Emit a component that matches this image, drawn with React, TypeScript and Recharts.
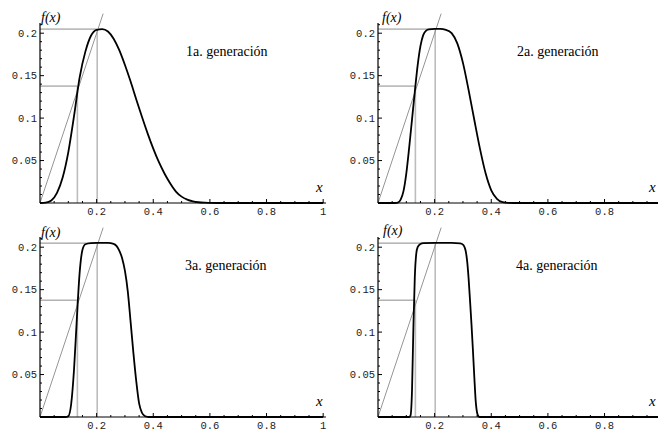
import { Line, LineChart, ReferenceLine, XAxis, YAxis } from 'recharts'

const GEN1_X = [0, 0.02, 0.04, 0.06, 0.08, 0.1, 0.12, 0.14, 0.16, 0.18, 0.2, 0.22, 0.24, 0.26, 0.28, 0.3, 0.32, 0.34, 0.36, 0.38, 0.4, 0.42, 0.44, 0.46, 0.48, 0.5, 0.52, 0.54, 0.56, 0.58, 0.6, 0.65, 0.7, 0.8, 0.9, 1]
const GEN1_Y = [0, 0.0004, 0.003, 0.012, 0.03, 0.06, 0.102, 0.148, 0.178, 0.197, 0.204, 0.2048, 0.202, 0.1935, 0.18, 0.1625, 0.143, 0.122, 0.1015, 0.082, 0.064, 0.048, 0.0345, 0.023, 0.0135, 0.0075, 0.004, 0.002, 0.0009, 0.0004, 0.0002, 0, 0, 0, 0, 0]

const GEN2_X = [0, 0.06, 0.07, 0.08, 0.09, 0.1, 0.11, 0.12, 0.13, 0.14, 0.15, 0.16, 0.17, 0.18, 0.2, 0.22, 0.24, 0.26, 0.28, 0.3, 0.32, 0.34, 0.36, 0.38, 0.4, 0.42, 0.44, 0.46, 0.48, 0.6, 0.8, 1]
const GEN2_Y = [0, 0, 0.0005, 0.004, 0.014, 0.035, 0.065, 0.098, 0.131, 0.162, 0.185, 0.198, 0.203, 0.2045, 0.205, 0.205, 0.204, 0.2, 0.188, 0.165, 0.133, 0.098, 0.064, 0.035, 0.015, 0.005, 0.001, 0.0001, 0, 0, 0, 0]

const GEN3_X = [0, 0.09, 0.1, 0.11, 0.12, 0.13, 0.14, 0.15, 0.16, 0.18, 0.2, 0.22, 0.24, 0.26, 0.27, 0.28, 0.29, 0.3, 0.31, 0.32, 0.33, 0.34, 0.35, 0.36, 0.37, 0.38, 0.39, 0.5, 0.75, 1]
const GEN3_Y = [0, 0, 0.001, 0.015, 0.055, 0.115, 0.17, 0.197, 0.2035, 0.2048, 0.205, 0.205, 0.205, 0.204, 0.2015, 0.196, 0.187, 0.172, 0.148, 0.112, 0.075, 0.042, 0.016, 0.005, 0.0012, 0.0002, 0, 0, 0, 0]

const GEN4_X = [0, 0.11, 0.115, 0.12, 0.125, 0.13, 0.135, 0.14, 0.15, 0.16, 0.2, 0.26, 0.29, 0.3, 0.305, 0.31, 0.315, 0.32, 0.325, 0.33, 0.335, 0.34, 0.345, 0.35, 0.355, 0.36, 0.5, 0.75, 1]
const GEN4_Y = [0, 0, 0.002, 0.03, 0.105, 0.165, 0.192, 0.2, 0.2038, 0.2048, 0.205, 0.205, 0.2045, 0.203, 0.2005, 0.195, 0.183, 0.163, 0.137, 0.11, 0.08, 0.048, 0.019, 0.005, 0.0008, 0, 0, 0, 0]

const X_TICKS = [0.05, 0.1, 0.15, 0.2, 0.25, 0.3, 0.35, 0.4, 0.45, 0.5, 0.55, 0.6, 0.65, 0.7, 0.75, 0.8, 0.85, 0.9, 0.95, 1]
const X_LABELS = [0.2, 0.4, 0.6, 0.8, 1]
const X_LABELS_CUT = [0.2, 0.4, 0.6, 0.8]
const Y_TICKS = [0.01, 0.02, 0.03, 0.04, 0.05, 0.06, 0.07, 0.08, 0.09, 0.1, 0.11, 0.12, 0.13, 0.14, 0.15, 0.16, 0.17, 0.18, 0.19, 0.2, 0.21]
const Y_LABELS = [0.05, 0.1, 0.15, 0.2]

// guide lines: peak level, knee level, and the diagonal
const PEAK_X = 0.202
const PEAK_Y = 0.2048
const KNEE_X = 0.132
const KNEE_Y = 0.1376
const DIAG_END = 0.223

const TITLES = ['1a. generación', '2a. generación', '3a. generación', '4a. generación']

const zip = (xs: number[], ys: number[]) => xs.map((x, i) => ({ x, y: ys[i] }))

const MONO = '"Liberation Mono", "DejaVu Sans Mono", monospace'
const SERIF = '"Liberation Serif", "DejaVu Serif", serif'

function XTick(props: any) {
  const { x, y, payload, labels } = props
  const v = payload.value
  const major = X_LABELS.includes(v)
  return (
    <g>
      <line x1={x} x2={x} y1={y} y2={y - (major ? 4 : 2)} stroke="#000" strokeWidth={1} />
      {labels.includes(v) && (
        <text x={x} y={y + 11.5} textAnchor="middle" fontFamily={MONO} fontSize={10.5} fill="#222">
          {String(v)}
        </text>
      )}
    </g>
  )
}

function YTick(props: any) {
  const { x, y, payload } = props
  const v = payload.value
  const major = Y_LABELS.includes(v)
  return (
    <g>
      <line x1={x} x2={x + (major ? 4 : 2)} y1={y} y2={y} stroke="#000" strokeWidth={1} />
      {major && (
        <text x={x - 3} y={y} dy="0.35em" textAnchor="end" fontFamily={MONO} fontSize={10.5} fill="#222">
          {String(v)}
        </text>
      )}
    </g>
  )
}

function Panel({
  xs,
  ys,
  labels,
  hColor,
  hWidth,
}: {
  xs: number[]
  ys: number[]
  labels: number[]
  hColor: string
  hWidth: number
}) {
  const data = zip(xs, ys)
  return (
    <LineChart
      width={338}
      height={225}
      data={data}
      margin={{ top: 23, right: 12, left: 0, bottom: 2 }}
      style={{ overflow: 'visible' }}
    >
      <XAxis
        dataKey="x"
        type="number"
        domain={[0, 1.01]}
        ticks={X_TICKS}
        interval={0}
        height={20}
        tickSize={0}
        tickMargin={0}
        tickLine={false}
        axisLine={{ stroke: '#000', strokeWidth: 1 }}
        tick={<XTick labels={labels} />}
      />
      <YAxis
        type="number"
        domain={[0, 0.212]}
        ticks={Y_TICKS}
        interval={0}
        width={40}
        tickSize={0}
        tickMargin={0}
        tickLine={false}
        axisLine={{ stroke: '#000', strokeWidth: 1.2 }}
        tick={<YTick />}
      />
      <ReferenceLine
        segment={[{ x: 0, y: PEAK_Y }, { x: PEAK_X, y: PEAK_Y }]}
        stroke={hColor}
        strokeWidth={hWidth}
        ifOverflow="visible"
      />
      <ReferenceLine
        segment={[{ x: 0, y: KNEE_Y }, { x: KNEE_X, y: KNEE_Y }]}
        stroke={hColor}
        strokeWidth={hWidth}
        ifOverflow="visible"
      />
      <ReferenceLine
        segment={[{ x: PEAK_X, y: 0 }, { x: PEAK_X, y: PEAK_Y }]}
        stroke="#bdbdbd"
        strokeWidth={1.6}
        ifOverflow="visible"
      />
      <ReferenceLine
        segment={[{ x: KNEE_X, y: 0 }, { x: KNEE_X, y: KNEE_Y }]}
        stroke="#bdbdbd"
        strokeWidth={1.6}
        ifOverflow="visible"
      />
      <ReferenceLine
        segment={[{ x: 0, y: 0 }, { x: DIAG_END, y: DIAG_END }]}
        stroke="#8a8a8a"
        strokeWidth={0.9}
        ifOverflow="visible"
      />
      <Line
        type="monotone"
        dataKey="y"
        stroke="#000"
        strokeWidth={1.8}
        dot={false}
        isAnimationActive={false}
      />
    </LineChart>
  )
}

const PANELS = [
  { left: 0, top: 0, xs: GEN1_X, ys: GEN1_Y, labels: X_LABELS, hColor: '#bdbdbd', hWidth: 1.6, fx: [41, 22], xl: 316, title: [186, 56] },
  { left: 338, top: 0, xs: GEN2_X, ys: GEN2_Y, labels: X_LABELS_CUT, hColor: '#bdbdbd', hWidth: 1.6, fx: [44, 22], xl: 311, title: [179, 56] },
  { left: 0, top: 214, xs: GEN3_X, ys: GEN3_Y, labels: X_LABELS, hColor: '#8a8a8a', hWidth: 1, fx: [41, 23], xl: 316, title: [185, 56] },
  { left: 338, top: 214, xs: GEN4_X, ys: GEN4_Y, labels: X_LABELS_CUT, hColor: '#8a8a8a', hWidth: 1, fx: [45, 21], xl: 311, title: [178, 56] },
]

export default function App() {
  return (
    <div
      style={{
        position: 'absolute',
        left: 0,
        top: 0,
        width: 658,
        height: 431,
        overflow: 'hidden',
        background: '#fff',
      }}
    >
      {PANELS.map((p, i) => (
        <div key={i} style={{ position: 'absolute', left: p.left, top: p.top }}>
          <Panel xs={p.xs} ys={p.ys} labels={p.labels} hColor={p.hColor} hWidth={p.hWidth} />
          <svg
            width={338}
            height={215}
            style={{ position: 'absolute', left: 0, top: 0, overflow: 'visible', pointerEvents: 'none' }}
          >
            <text x={p.fx[0]} y={p.fx[1]} fontFamily={SERIF} fontStyle="italic" fontSize={14} fill="#000">
              f(x)
            </text>
            <text x={p.xl} y={192} fontFamily={SERIF} fontStyle="italic" fontSize={15} fill="#000">
              x
            </text>
            <text x={p.title[0]} y={p.title[1]} fontFamily={SERIF} fontSize={14} fill="#000">
              {TITLES[i]}
            </text>
          </svg>
        </div>
      ))}
    </div>
  )
}
